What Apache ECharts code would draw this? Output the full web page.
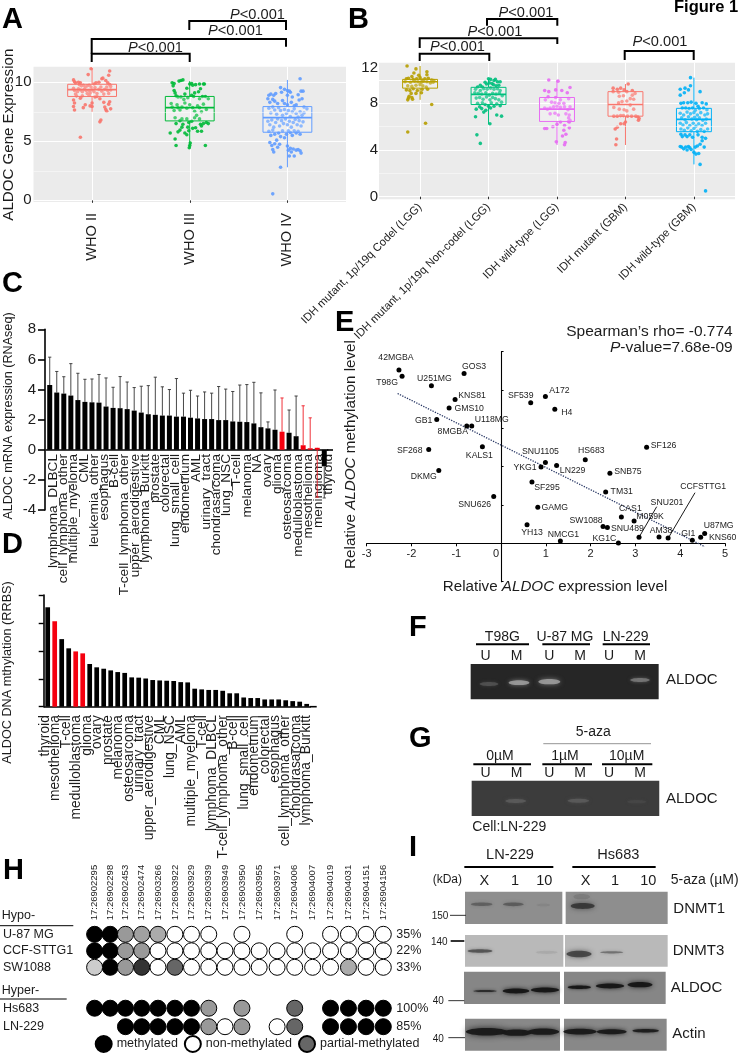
<!DOCTYPE html>
<html><head><meta charset="utf-8">
<style>html,body{margin:0;padding:0;background:#fff}#c{width:744px;height:1053px}</style>
<script src="https://cdn.jsdelivr.net/npm/echarts@6/dist/echarts.min.js"></script>
</head><body><div id="c"></div>
<script>
// ---------- Panel A data
const whoLabels = ['WHO II','WHO III','WHO IV'];
const whoBoxes = [[1,7.5,8.8,9.38,9.83,11.2],[2,4.4,6.73,7.86,8.8,10.1],[3,2.8,5.77,7.0,7.94,10.2]];
const whoII = [[-.12,5.35],[.08,6.65],[.09,6.8],[-.01,11.15],[.18,10.95],[-.04,10.65],[.17,10.6],[-.19,10.2],[-.18,10.05],[-.17,9.95],[-.14,10.0],[-.12,9.95],[-.13,9.8],[-.11,9.7],[-.09,9.75],[-.07,9.6],[-.05,9.7],[-.03,9.75],[-.01,9.6],[.02,9.85],[.04,9.95],[.07,10.0],[.1,10.3],[.11,10.35],[.14,10.15],[.16,9.95],[.18,9.8],[.19,9.65],[-.19,9.5],[-.18,9.3],[-.17,9.0],[-.16,8.85],[-.15,9.2],[-.14,9.45],[-.12,9.35],[-.1,9.2],[-.08,9.4],[-.06,9.3],[-.05,9.05],[-.03,9.3],[-.02,9.1],[0,9.35],[.02,9.2],[.03,9.55],[.05,9.05],[.07,9.4],[.09,9.6],[.1,9.25],[.12,9.0],[.13,9.4],[.15,9.6],[.16,9.3],[.17,9.05],[.19,9.35],[-.19,8.5],[-.18,8.25],[-.19,7.95],[-.18,7.65],[-.12,8.65],[-.1,8.85],[-.09,7.85],[-.07,8.1],[-.03,8.9],[-.02,8.0],[.0,7.95],[0,8.25],[.03,8.75],[.05,8.8],[.08,8.6],[.12,8.3],[.13,7.9],[.14,7.7],[.15,7.55],[.17,8.15],[.18,8.35],[.19,7.75]];
const whoIII = [[-.18,9.95],[-.17,9.7],[-.16,9.9],[-.11,10.1],[-.09,10.15],[-.07,10.2],[-.03,9.5],[0,9.85],[.02,9.9],[.03,9.75],[.06,9.8],[.1,9.85],[.14,9.85],[.15,9.85],[-.16,9.3],[-.15,9.1],[-.14,8.85],[-.12,8.75],[-.09,8.75],[-.06,8.55],[-.05,9.0],[-.02,8.7],[.02,8.9],[.04,8.8],[.05,9.1],[.09,9.2],[.11,9.45],[.1,8.6],[.13,8.8],[.16,8.8],[.19,8.6],[-.19,8.2],[-.18,7.9],[-.16,7.6],[-.13,8.1],[-.12,7.85],[-.1,7.65],[-.08,7.9],[-.05,8.25],[-.03,7.8],[0,8.1],[.03,7.85],[.05,7.55],[.08,8.0],[.1,7.85],[.12,7.5],[.14,8.15],[.17,7.7],[-.15,7.0],[-.14,6.5],[-.1,6.75],[-.08,6.9],[-.07,6.45],[-.03,6.9],[-.01,6.6],[.02,6.7],[.05,7.0],[.07,7.2],[.1,6.9],[.12,6.3],[.14,6.5],[.17,6.6],[.19,6.5],[-.2,5.7],[-.15,5.2],[-.12,5.8],[-.1,5.95],[-.08,6.2],[-.05,5.7],[-.03,5.55],[-.02,6.2],[-.01,5.9],[.03,6.1],[.06,6.15],[.08,5.85],[.12,5.85],[.11,6.45],[-.14,4.65],[-.005,4.45],[0,4.65],[.005,4.85],[.16,4.65]];
const whoIV = [[.13,10.3],[-.07,9.55],[-.03,9.4],[.0,9.3],[.02,9.25],[.03,9.15],[.14,9.25],[.16,9.25],[.11,8.95],[-.19,8.9],[-.17,9.0],[-.14,8.9],[-.12,9.05],[-.06,9.15],[.0,8.9],[.05,8.75],[-.2,8.6],[-.18,8.3],[-.15,8.55],[-.13,8.4],[-.1,8.2],[-.05,8.45],[-.03,8.2],[0,8.1],[.04,8.3],[.07,8.0],[.09,8.1],[.12,8.5],[.15,8.6],[.17,7.9],[.2,7.75],[-.19,7.8],[-.17,7.4],[-.15,7.9],[-.13,7.65],[-.11,7.3],[-.09,7.85],[-.07,7.6],[-.05,7.2],[-.03,7.7],[-.01,7.35],[.01,7.6],[.03,7.1],[.05,7.5],[.07,7.75],[.09,7.35],[.11,7.05],[.13,7.5],[.15,7.2],[.17,7.4],[-.2,6.7],[-.18,6.4],[-.16,6.8],[-.14,6.2],[-.12,6.6],[-.1,6.9],[-.08,6.3],[-.06,6.75],[-.04,6.5],[-.02,6.9],[0,6.4],[.02,6.7],[.04,6.2],[.06,6.6],[.08,6.85],[.1,6.4],[.12,6.75],[.14,6.3],[.16,6.65],[-.19,5.85],[-.17,5.5],[-.15,5.95],[-.13,5.6],[-.11,5.1],[-.09,5.7],[-.07,5.4],[-.05,5.9],[-.03,5.3],[-.01,5.6],[.01,5.9],[.03,5.75],[.05,5.5],[.07,5.9],[.09,5.7],[.11,5.85],[.13,5.6],[-.18,4.9],[-.16,4.65],[-.15,4.3],[-.14,4.1],[-.13,4.8],[-.1,4.5],[-.08,4.75],[.01,4.25],[.03,4.4],[.04,4.1],[.06,4.35],[.09,4.25],[.11,4.3],[.13,4.2],[.14,4.0],[.0,4.6],[.02,3.75],[.07,3.75],[-.15,.55],[-.07,2.8]];
// ---------- Panel B data
const idhLabels = ['IDH mutant, 1p/19q Codel (LGG)','IDH mutant, 1p/19q Non-codel (LGG)','IDH wild-type (LGG)','IDH mutant (GBM)','IDH wild-type (GBM)'];
const idhBoxes = [[1,8.3,9.3,9.85,10.05,11.2],[2,6.2,7.9,8.77,9.37,10.1],[3,4.43,6.45,7.5,8.5,10],[4,4.43,6.9,7.9,9,9.65],[5,2.77,5.57,6.63,7.57,10.2]];
const idhCodel = [[-.19,11.2],[-.06,10.95],[-.09,10.6],[.1,10.7],[.1,10.45],[-.02,10.4],[-.12,10.3],[-.2,10.1],[-.17,10.15],[-.1,10.05],[-.05,10.1],[.0,10.2],[.03,10.0],[.07,10.1],[.12,10.15],[.17,10.0],[.2,9.95],[-.22,9.85],[-.14,9.8],[-.08,9.9],[-.03,9.85],[.02,9.8],[.05,9.9],[.1,9.85],[.15,9.75],[.19,9.8],[-.18,9.5],[-.12,9.45],[-.06,9.55],[0,9.6],[.04,9.5],[.09,9.4],[-.2,9.15],[-.15,9.1],[-.1,9.25],[-.04,9.1],[.03,9.2],[.11,9.2],[-.13,8.85],[-.06,8.85],[.02,8.9],[-.16,8.6],[-.12,8.5],[-.17,8.45],[-.18,8.3],[-.11,8.35],[.17,7.9],[.08,6.3],[-.18,5.55]];
const idhNonCodel = [[-.12,4.57],[-.17,5.3],[-.19,6.85],[.12,7.0],[.19,6.9],[.02,6.25],[.0,10.1],[.03,10.05],[.1,10.05],[.08,9.95],[.13,9.85],[.17,9.85],[-.05,9.8],[-.03,9.65],[.01,9.75],[.05,9.7],[-.12,9.55],[-.16,9.4],[-.09,9.4],[.07,9.6],[.11,9.5],[.15,9.55],[-.19,9.2],[-.12,9.1],[-.07,9.25],[-.02,9.2],[.03,9.3],[.08,9.2],[.13,9.25],[.17,9.1],[-.2,8.9],[-.15,8.85],[-.1,8.8],[-.04,8.9],[.01,8.7],[.06,8.85],[.11,8.8],[.16,8.9],[.2,8.65],[-.18,8.45],[-.13,8.5],[-.08,8.35],[-.03,8.55],[.02,8.3],[.06,8.5],[.1,8.4],[.15,8.3],[.19,8.1],[-.16,8.0],[-.09,8.05],[-.05,7.9],[.0,7.75],[.04,8.05],[.08,7.75],[.12,7.95],[.17,7.8],[-.18,7.5],[-.13,7.7],[-.1,7.55],[-.04,7.4],[.03,7.6],[-.07,7.25]];
const idhWtLgg = [[-.12,10],[.015,9.9],[-.18,9.1],[-.12,9],[-.02,9.15],[.07,9.1],[.19,9.35],[.15,8.9],[-.13,8.55],[-.17,8.3],[-.02,8.5],[.05,8.3],[.17,8.4],[-.08,8.1],[-.03,8.05],[.03,8.0],[.1,8.0],[-.18,7.6],[-.14,7.5],[-.1,7.6],[-.05,7.7],[0,7.75],[.05,7.65],[.11,7.7],[.16,7.45],[.19,7.7],[-.03,7.15],[-.1,7.1],[.02,7.0],[.13,7.1],[.18,7.0],[.17,6.75],[.19,6.55],[.17,6.45],[.18,6.4],[.05,6.4],[.0,6.2],[-.06,6.0],[.11,6.1],[.18,5.9],[-.18,5.85],[-.15,5.85],[.1,5.7],[.13,5.35],[.08,5.2],[.12,4.65],[.11,4.45],[-.01,4.7]];
const idhMutGbm = [[.04,9.65],[-.18,9.3],[-.12,9.2],[-.07,9.3],[-.02,9.15],[.02,9],[.1,9.1],[.14,8.85],[-.18,9.0],[-.1,8.95],[-.09,8.6],[-.03,8.65],[.1,8.7],[.12,8.35],[.07,8.4],[.02,8.2],[-.05,8.15],[-.1,8.05],[-.17,7.65],[.07,7.85],[.12,7.5],[-.02,7.45],[-.09,7.5],[.02,7.35],[-.17,6.9],[-.12,6.9],[-.07,6.95],[-.03,6.95],[.03,6.9],[.09,6.9],[.15,6.9],[.18,6.85],[.19,6.55],[.2,6.7],[.0,6.4],[-.07,6.25],[-.02,6.25],[-.12,5.95],[-.15,5.8],[-.13,4.95],[-.14,4.45]];
const idhWtGbm = [[.17,.5],[.09,2.77],[.03,3.65],[-.05,10.2],[-.05,9.5],[-.2,9.2],[-.13,9.3],[-.08,9.15],[.09,9],[-.2,8.7],[-.14,8.9],[-.19,8.0],[-.15,8.05],[-.09,8.05],[-.04,8.1],[.03,8.0],[.06,7.75],[.12,8.05],[.18,7.95],[-.17,7.6],[-.12,7.6],[-.07,7.55],[-.02,7.6],[.02,7.4],[.08,7.55],[.14,7.6],[.19,7.45],[-.2,7.15],[-.15,7.0],[-.1,7.25],[-.05,7.1],[0,7.2],[.05,7.0],[.1,7.2],[.16,7.0],[.2,7.1],[-.18,6.75],[-.13,6.6],[-.08,6.85],[-.03,6.65],[.01,6.8],[.04,6.6],[.08,6.75],[.13,6.55],[.18,6.65],[-.2,6.3],[-.16,6.15],[-.11,6.35],[-.06,6.1],[-.01,6.3],[.03,6.05],[.07,6.25],[.12,6.1],[.17,6.3],[-.19,5.8],[-.14,5.7],[-.09,5.9],[-.04,5.65],[.0,5.85],[.05,5.6],[.1,5.75],[.15,5.6],[.2,5.8],[-.19,5.35],[-.17,5.15],[-.13,5.3],[-.1,5.15],[-.06,5.3],[-.02,5.1],[.06,5.3],[.12,5.1],[.17,5.0],[-.2,4.3],[-.18,4.25],[-.15,4.1],[-.12,4.25],[-.1,4.0],[-.08,4.3],[-.06,4.2],[-.04,4.05],[.05,4.35],[.09,4.5],[.12,4.8],[.02,4.25],[.15,4.25],[.0,3.8],[.07,3.7]];
// ---------- Panel C data
const ccleLabelsC = ['lymphoma_DLBCL','cell_lymphoma_other','multiple_myeloma','CML','leukemia_other','esophagus','B-cell','T-cell_lymphoma_other','upper_aerodigestive','lymphoma_Burkitt','prostate','colorectal','lung_small_cell','endometrium','AML','urinary_tract','chondrasarcoma','lung_NSC','T-cell','melanoma','NA','ovary','glioma','osteosarcoma','medulloblastoma','mesothelioma','meningioma','thyroid'];
const rnaMeans = [4.3,3.8,3.73,3.6,3.3,3.18,3.15,3.13,2.87,2.78,2.76,2.7,2.6,2.47,2.36,2.32,2.27,2.27,2.2,2.2,2.13,2.08,2.04,2.04,1.97,1.97,1.88,1.86,1.84,1.75,1.5,1.42,1.33,1.2,1.13,.9,.3,.1,.13,-1.1];
const rnaErrEnds = [6.15,5.2,4.85,5.72,5.08,4.68,4.7,5.0,4.77,4.15,4.86,4.5,4.13,4.22,4.26,4.82,4.18,4.0,4.73,3.76,3.95,3.57,3.84,3.76,4.2,4.03,3.87,4.3,4.33,4.48,3.78,1.85,3.97,3.44,2.64,3.57,2.92,2.12,-3.15,-3.2];
const rnaRed = [33,36,37,38];
// ---------- Panel D data
const ccleLabelsD = ['thyroid','mesothelioma','T-cell','medulloblastoma','glioma','ovary','prostate','melanoma','osteosarcoma','urinary_tract','upper_aerodigestive','CML','lung_NSC','AML','multiple_myeloma','T-cell','lymphoma_DLBCL','T-cell_lymphoma_other','B-cell','lung_small_cell','endometrium','colorectal','esophagus','cell_lymphoma_other','chondrasarcoma','lymphoma_Burkitt'];
const rrbsValues = [3.56,3.06,2.42,2.09,1.98,1.91,1.53,1.41,1.36,1.30,1.24,1.21,1.05,1.04,1.01,.955,.94,.93,.92,.88,.87,.645,.62,.6,.6,.57,.48,.48,.33,.31,.31,.26,.26,.26,.23,.2,.18,.1];
const rrbsRed = [1,4,5];
// ---------- Panel E data
const cellNames = ['42MGBA','T98G','U251MG','GOS3','KNS81','GMS10','GB1','8MGBA','U118MG','SF268','KALS1','DKMG','SNU626','SF539','A172','H4','SNU1105','YKG1','LN229','HS683','SF126','SNB75','SF295','TM31','GAMG','CAS1','M059K','SW1088','SNU489','YH13','NMCG1','KG1C','SNU201','AM38','CCFSTTG1','GI1','U87MG','KNS60'];
const exprLevel = [-2.28,-2.21,-1.555,-.826,-1.027,-1.16,-1.436,-.766,-.655,-1.615,-.417,-1.39,-.164,.662,.99,1.2,.99,.893,1.24,1.88,3.25,2.43,.69,2.336,.82,2.686,2.97,2.277,2.374,.58,1.324,2.62,3.08,3.527,3.73,4.27,4.546,4.457];
const methLevel = [4.52,4.36,4.11,4.43,3.75,3.53,3.23,3.06,3.06,2.45,2.52,1.90,1.22,3.67,3.83,3.5,2.11,1.99,2.03,2.18,2.51,1.83,1.6,1.34,.94,.687,.583,.443,.417,.487,.06,.01,.157,.165,.14,.08,.26,.157];
const trendX = [-2.31,4.55];
const trendY = [3.91,-.087];
// label centres, in pixels of offset from each dot (layout only)
const cellLabelOffsets = [[-3,-12],[-15,6],[3,-7],[10,-7],[17,-4],[20,1],[-13,1],[-14,6],[20,-6],[-19,1],[-3,9],[-15,6],[-19,8],[-10,-7],[14,-6],[12,3],[-5,-11],[-16,1],[16,5],[6,-9],[17,-2],[18,-2],[15,6],[16,0],[17,0],[9,-8],[16,-4],[-17,-6],[20,1],[5,8],[3,-6],[-14,-4],[28,-35],[2,-6],[35,-51],[-4,-7],[14,-8],[22,0]];
// ---------- Panel H data
const siteLabels = ['17:26902295','17:26902298','17:26902453','17:26902474','17:26903266','17:26903922','17:26903929','17:26903939','17:26903949','17:26903950','17:26903955','17:26903971','17:26904006','17:26904007','17:26904019','17:26904031','17:26904151','17:26904156'];
const siteTrack = [280,327,373,422,471,522,572,624,673,724,776,830,883,937,991,1045,1098,1150];
const rowNames = ['U-87 MG','CCF-STTG1','SW1088','Hs683','LN-229'];
const rowPct = ['35%','22%','33%','100%','85%'];
const rowTrack = [0,1,2,4.48,5.6];
const lvlU87 = [1,1,.4,.37,.33,0,0,0,null,0,null,null,0,null,0,0,0,0];
const lvlCcf = [1,1,.4,.4,0,0,0,0,0,0,0,0,0,0,0,0,0,0];
const lvlSw = [.2,1,.4,.8,0,.6,0,0,0,0,0,0,0,0,0,.33,0,0];
const lvlHs = [1,1,1,1,1,1,1,.4,null,.4,null,null,.6,null,1,1,1,1];
const lvlLn = [null,null,1,1,1,1,1,.4,0,.4,null,0,.6,null,1,1,1,1];

// ---------- styling helpers
const FF = "'Liberation Sans', Arial, sans-serif", INK = '#1c1c1c';
const colsA = ['#F8766D','#00BA38','#619CFF'];
const colsB = ['#B79F00','#00BF7D','#E76BF3','#F8766D','#00B0F6'];
const G = [];
function T(text,x,y,size,o={}){ G.push({type:'text',x,y,rotation:o.rot||0,z:50,style:{text,fontSize:size,fontFamily:FF,fontWeight:o.weight||'normal',fill:o.color||INK,textAlign:o.align||'left',textVerticalAlign:'middle',rich:o.rich}}); }
function L(x1,y1,x2,y2,w,c){ G.push({type:'line',z:40,shape:{x1,y1,x2,y2},style:{stroke:c||'#000',lineWidth:w||1}}); }
function P(pts,w){ G.push({type:'polyline',z:40,shape:{points:pts},style:{stroke:'#000',lineWidth:w||2,fill:null}}); }
function R(x,y,w,h,c){ G.push({type:'rect',z:30,shape:{x,y,width:w,height:h},style:{fill:c}}); }
function B(cx,cy,w,h,c){ G.push({type:'ellipse',z:31,shape:{cx,cy,rx:w/2,ry:h/2},style:{fill:c,shadowBlur:Math.max(3,h*.9),shadowColor:c}}); }
const ital = s => ({i:{fontStyle:'italic',fontSize:s,fontFamily:FF,fill:INK}});

// panel letters
[['A',2,19.5],['B',348,19.5],['C',2,283.5],['D',2,545],['E',335,322.5],['F',409,628],['G',409,738.5],['H',3,871],['I',409,847.5]].forEach(a=>T(a[0],a[1],a[2],29,{weight:'bold',color:'#000'}));
T('Figure 1',674,7.5,16.5,{weight:'bold',color:'#000'});

// A annotations
T('ALDOC Gene Expression',9,134.7,15.1,{rot:Math.PI/2,align:'center'});
P([[91.7,62],[91.7,53.7],[189.7,53.7],[189.7,62]]);
P([[91.7,53.7],[91.7,39],[286,39],[286,46.7]]);
P([[189.3,30],[189.3,21],[286,21],[286,30]]);
[[155.5,47.5],[235.5,30.5],[257.5,14.5],[457.5,46.5],[495,31.5],[526,12.5],[660,42]].forEach(p=>T('{i|P}<0.001',p[0],p[1],14.6,{align:'center',rich:ital(14.6)}));
// B annotations
P([[419.7,61],[419.7,53.7],[489.3,53.7],[489.3,61]]);
P([[419.7,48],[419.7,38.3],[557.3,38.3],[557.3,44]]);
P([[487,25.7],[487,19],[557.3,19],[557.3,25.7]]);
P([[624.7,60],[624.7,51],[693.7,51],[693.7,60]]);
// C / D annotations
T('ALDOC mRNA expression (RNAseq)',9,416,12.6,{rot:Math.PI/2,align:'center'});
T('ALDOC DNA mthylation (RRBS)',7,672.5,12.7,{rot:Math.PI/2,align:'center'});
L(327,450,333,450,1.6); L(310,706.7,316.7,706.7,1.6);
// E annotations
T("Spearman\u2019s rho= -0.774",732.7,332,15.5,{align:'right'});
T('{i|P}-value=7.68e-09',732.7,348,15.5,{align:'right',rich:ital(15.5)});
T('Relative {i|ALDOC} methylation level',351,454.5,15.2,{rot:Math.PI/2,align:'center',rich:ital(15.2)});
T('Relative {i|ALDOC} expression level',555,587,15.2,{align:'center',rich:ital(15.2)});
L(639,537.3,656.7,506.7,.9); L(668.3,538,695,492.7,.9);

// F gel
const fx=z=>420+z/3, fy=z=>600+z/3;
[['T98G',247,168,327],['U-87 MG',435,367,510],['LN-229',617,548,690]].forEach(a=>{T(a[0],fx(a[1]),637.5,14,{align:'center'});L(fx(a[2]),644.3,fx(a[3]),644.3,2);});
const laneU=[197,290,388,480,567,660];
laneU.forEach((z,i)=>{T(i%2?'M':'U',fx(z),656,14,{align:'center'});T(i%2?'M':'U',fx(z),773.5,14,{align:'center'});});
R(fx(152),fy(192),188,35.3,'#262626');
[[207,252,56,6,'rgba(90,90,90,.7)'],[297,248,62,7,'rgba(165,165,165,.8)'],[388,245,66,8,'rgba(165,165,165,.8)'],[660,240,58,6,'rgba(125,125,125,.8)']].forEach(b=>B(fx(b[0]),fy(b[1]),b[2]/3,b[3]/1.5,b[4]));
T('ALDOC',666,680.3,15);
// G gel
T('5-aza',593.3,732,14,{align:'center'});L(543.3,743.7,651,743.7,.8,'#777');
[['0\u00b5M',240,160,333],['1\u00b5M',435,367,516],['10\u00b5M',620,546,697]].forEach(a=>{T(a[0],fx(a[1]),756,14,{align:'center'});L(fx(a[2]),764.3,fx(a[3]),764.3,2);});
R(fx(155),fy(542),187.6,35.3,'#3c3c3c');
[[287,603,62,6,'rgba(95,95,95,.75)'],[475,602,64,6,'rgba(95,95,95,.75)'],[650,605,56,5,'rgba(72,72,72,.7)']].forEach(b=>B(fx(b[0]),fy(b[1]),b[2]/3,b[3]/1.5,b[4]));
T('ALDOC',666,799,15);
T('Cell:LN-229',472.3,827,14);

// I blots
const ix=z=>430+z/3, iy=z=>835+z/3;
T('LN-229',510,855,14.6,{align:'center'});L(ix(103),867,ix(370),867,2);
T('Hs683',618.3,855,14.6,{align:'center'});L(ix(427),867,ix(677),867,2);
T('(kDa)',432.7,880,12);
[['X',163],['1',255],['10',343],['X',467],['1',555],['10',655]].forEach(a=>T(a[0],ix(a[1]),881,14.5,{align:'center'}));
T('5-aza (\u00b5M)',670.7,880.5,14);
[[105,397,170,267,'#8e8e8e'],[407,713,170,267,'#8e8e8e'],[105,400,300,395,'#b9b9b9'],[405,713,300,395,'#b9b9b9'],[102,390,410,507,'#868686'],[402,707,410,507,'#868686'],[105,390,551,647,'#888888'],[402,710,551,647,'#888888']].forEach(r=>R(ix(r[0]),iy(r[2]),(r[1]-r[0])/3,(r[3]-r[2])/3,r[4]));
const blotBands=[[155,208,65,13,'rgba(70,70,70,.55)'],[250,208,62,14,'rgba(70,70,70,.6)'],[340,210,40,10,'rgba(90,90,90,.15)'],[458,213,72,22,'rgba(45,45,45,.8)'],[455,185,50,20,'rgba(80,80,80,.25)'],
[150,348,75,13,'rgba(60,60,60,.7)'],[350,352,65,12,'rgba(120,120,120,.2)'],[447,357,75,24,'rgba(55,55,55,.8)'],[545,352,70,9,'rgba(80,80,80,.6)'],
[165,468,70,8,'rgba(30,30,30,.8)'],[258,468,80,18,'rgba(20,20,20,.92)'],[345,465,85,18,'rgba(20,20,20,.92)'],[448,457,70,13,'rgba(20,20,20,.92)'],[540,453,85,18,'rgba(20,20,20,.92)'],[630,449,75,20,'rgba(20,20,20,.92)'],
[170,590,125,28,'rgba(25,25,25,.95)'],[260,593,90,24,'rgba(25,25,25,.95)'],[340,590,95,24,'rgba(25,25,25,.95)'],[450,590,100,21,'rgba(25,25,25,.95)'],[545,590,90,19,'rgba(25,25,25,.95)'],[647,587,80,13,'rgba(25,25,25,.9)']];
blotBands.forEach(b=>B(ix(b[0]),iy(b[1]),b[2]/3,b[3]/3*.8,b[4]));
[['DNMT1',730,222],['DNMT3',728,347],['ALDOC',722,460],['Actin',727,597]].forEach(a=>T(a[0],ix(a[1]),iy(a[2]),15));
[['150',5,245,60,108,241,1],['140',3,322,62,103,318,2],['40',8,500,55,103,497,1],['40',8,612,55,105,608,1]].forEach(a=>{T(a[0],ix(a[1]),iy(a[2]),10);L(ix(a[3]),iy(a[5]),ix(a[4]),iy(a[5]),a[6],'#333');});
// H annotations
T('Hypo-',1.7,916,12.5);L(0,925.7,73.3,925.7,1);
T('Hyper-',1.7,990.5,12.5);L(0,999,66.7,999,1);

// ---------- series builders
function boxSeries(name,xi,yi,data,cols,halfW){ return {name,type:'custom',xAxisIndex:xi,yAxisIndex:yi,z:4,clip:false,silent:true,data,encode:{x:0,y:[1,2,3,4,5]},
  renderItem(params,api){ const c=cols[params.dataIndex],x=api.value(0),v=[1,2,3,4,5].map(d=>api.value(d));
    const p=(a,b)=>api.coord([a,b]); const st={stroke:c,lineWidth:1,fill:null};
    const tl=p(x-halfW,v[3]),br=p(x+halfW,v[1]),ml=p(x-halfW,v[2]),mr=p(x+halfW,v[2]);
    return {type:'group',children:[
      {type:'line',shape:{x1:p(x,v[0])[0],y1:p(x,v[0])[1],x2:p(x,v[1])[0],y2:p(x,v[1])[1]},style:st},
      {type:'line',shape:{x1:p(x,v[3])[0],y1:p(x,v[3])[1],x2:p(x,v[4])[0],y2:p(x,v[4])[1]},style:st},
      {type:'rect',shape:{x:tl[0],y:tl[1],width:br[0]-tl[0],height:br[1]-tl[1]},style:{stroke:c,lineWidth:1,fill:'rgba(255,255,255,.22)'}},
      {type:'line',shape:{x1:ml[0],y1:ml[1],x2:mr[0],y2:mr[1]},style:{stroke:c,lineWidth:1.7}}
    ]};}}; }
function jitter(name,xi,yi,k,pts,col,minor){ const s={name,type:'scatter',xAxisIndex:xi,yAxisIndex:yi,z:3,symbolSize:3.6,clip:false,silent:true,itemStyle:{color:col,opacity:.9},data:pts.map(p=>[k+p[0],p[1]])};
  if(minor) s.markLine={silent:true,symbol:'none',animation:false,label:{show:false},lineStyle:{color:'#fff',width:.6,type:'solid',opacity:.8},data:minor.map(v=>({yAxis:v}))};
  return s; }
function errSeries(name,xi,yi,means,ends,red){ return {name,type:'custom',xAxisIndex:xi,yAxisIndex:yi,z:3,clip:false,silent:true,data:means.map((m,i)=>[i,m,ends[i]]),encode:{x:0,y:[1,2]},
  renderItem(params,api){ const i=api.value(0),a=api.coord([i,api.value(1)]),b=api.coord([i,api.value(2)]),c=red.includes(i)?'#ee1c25':'#333';
    return {type:'group',children:[{type:'line',shape:{x1:a[0],y1:a[1],x2:b[0],y2:b[1]},style:{stroke:c,lineWidth:.9}},{type:'line',shape:{x1:b[0]-1.6,y1:b[1],x2:b[0]+1.6,y2:b[1]},style:{stroke:c,lineWidth:.9}}]};}}; }
const colorBars=(vals,red)=>vals.map((v,i)=>({value:v,itemStyle:{color:red.includes(i)?'#f5000f':'#000'}}));

// H series
const rows=[lvlU87,lvlCcf,lvlSw,lvlHs,lvlLn];
const hPts={m:[],n:[],p:[]};
rows.forEach((r,ri)=>r.forEach((lv,ci)=>{ if(lv===null)return;
  const pt=[siteTrack[ci],rowTrack[ri]];
  if(lv===1)hPts.m.push(pt); else if(lv===0)hPts.n.push(pt);
  else {const g=Math.round(255*(1-lv));hPts.p.push({value:pt,itemStyle:{color:`rgb(${g},${g},${g})`}});}
}));
const hSeries=(name,data,color)=>({name,type:'scatter',xAxisIndex:7,yAxisIndex:7,clip:false,silent:true,symbolSize:16,data,itemStyle:{color,borderColor:'#000',borderWidth:1,opacity:1}});

const noLine={show:false}, noTick={show:false};
const blackAxis={lineStyle:{color:'#000',width:1.6}};
const option={
  animation:false,backgroundColor:'#fff',textStyle:{fontFamily:FF,color:INK},
  grid:[
    {left:33.5,top:66.7,width:312.5,height:135.3,show:true,backgroundColor:'#EBEBEB',borderWidth:0},
    {left:379,top:62.7,width:356,height:136.6,show:true,backgroundColor:'#EBEBEB',borderWidth:0},
    {left:46.2,top:329.3,width:281.6,height:180.7},
    {left:48.2,top:449,width:285.2,height:1},
    {left:44.2,top:595,width:266,height:111.7},
    {left:39.8,top:705.7,width:272,height:1},
    {left:366.7,top:351.7,width:358.3,height:230},
    {left:93.3,top:934.3,width:290,height:92.4},
    {left:366.7,top:542.3,width:358.3,height:1}
  ],
  xAxis:[
    {gridIndex:0,type:'value',min:.4,max:3.6,axisLine:noLine,axisTick:{customValues:[1,2,3],length:2.5,lineStyle:{color:'#333'}},splitLine:{show:true,lineStyle:{color:'#fff',width:1.1}},
      axisLabel:{customValues:[1,2,3],formatter:v=>whoLabels[v-1],rotate:90,fontSize:14.6,margin:11,color:INK}},
    {gridIndex:1,type:'value',min:.4,max:5.6,axisLine:noLine,axisTick:{customValues:[1,2,3,4,5],length:2.5,lineStyle:{color:'#333'}},splitLine:{show:true,lineStyle:{color:'#fff',width:1.1}},
      axisLabel:{customValues:[1,2,3,4,5],formatter:v=>idhLabels[v-1],rotate:45,fontSize:11.3,margin:6,color:INK}},
    {gridIndex:2,type:'category',data:rnaMeans.map((_,i)=>String(i+1)),axisLine:{onZero:true,...blackAxis},axisTick:noTick,axisLabel:{show:false}},
    {gridIndex:3,type:'category',position:'bottom',data:ccleLabelsC,axisLine:noLine,axisTick:noTick,axisLabel:{interval:0,rotate:90,fontSize:13.6,margin:4,color:INK,hideOverlap:false}},
    {gridIndex:4,type:'category',data:rrbsValues.map((_,i)=>String(i+1)),axisLine:blackAxis,axisTick:noTick,axisLabel:{show:false}},
    {gridIndex:5,type:'category',position:'bottom',data:ccleLabelsD,axisLine:noLine,axisTick:noTick,axisLabel:{interval:0,rotate:90,fontSize:13.8,margin:8.5,color:INK,hideOverlap:false}},
    {gridIndex:6,type:'value',min:-3,max:5,interval:1,axisLine:{onZero:true,lineStyle:{color:'#000',width:1.1}},axisTick:{show:false},splitLine:{show:false},axisLabel:{show:false}},
    {gridIndex:7,type:'value',position:'top',min:280,max:1150,axisLine:noLine,axisTick:{show:false,customValues:siteTrack},splitLine:{show:false},
      axisLabel:{customValues:siteTrack,formatter:v=>siteLabels[siteTrack.indexOf(v)],rotate:90,fontSize:9.5,margin:14,color:INK}},
    {gridIndex:8,type:'value',position:'bottom',min:-3,max:5,interval:1,axisLine:noLine,axisTick:{length:3,lineStyle:{color:'#000'}},splitLine:{show:false},
      axisLabel:{fontSize:11,margin:5,color:INK,formatter:v=>v===0?'{z|0}':String(v),rich:{z:{fontSize:11,padding:[0,10,0,0]}}}}
  ],
  yAxis:[
    {gridIndex:0,type:'value',min:-.14,max:11.32,axisLine:noLine,axisTick:{show:false,customValues:[0,5,10]},splitLine:{show:true,lineStyle:{color:'#fff',width:1.1}},
      axisLabel:{customValues:[0,5,10],fontSize:15,margin:2,color:INK}},
    {gridIndex:1,type:'value',min:-.22,max:11.48,axisLine:noLine,axisTick:{show:false,customValues:[0,4,8,10]},splitLine:{show:true,lineStyle:{color:'#fff',width:1.1}},
      axisLabel:{customValues:[0,4,8,11],formatter:v=>v===11?'12':String(v),fontSize:15,margin:1,color:INK}},
    {gridIndex:2,type:'value',min:-4,max:8,interval:2,offset:1.2,axisLine:{show:true,onZero:false,...blackAxis},axisTick:{show:true,length:7,lineStyle:{color:'#000',width:1.6}},splitLine:{show:false},axisLabel:{fontSize:15,margin:9,color:INK}},
    {gridIndex:3,type:'value',show:false},
    {gridIndex:4,type:'value',min:0,max:4,interval:1,offset:.5,axisLine:{show:true,...blackAxis},axisTick:{show:true,length:5,lineStyle:{color:'#000',width:1.4}},splitLine:{show:false},axisLabel:{show:false}},
    {gridIndex:5,type:'value',show:false},
    {gridIndex:6,type:'value',min:-1,max:5,interval:1,axisLine:{onZero:true,lineStyle:{color:'#000',width:1.1}},axisTick:{length:2.5,inside:true,lineStyle:{color:'#000'}},splitLine:{show:false},axisLabel:{show:false}},
    {gridIndex:7,type:'value',min:0,max:5.6,inverse:true,position:'left',axisLine:noLine,axisTick:{show:false,customValues:rowTrack},splitLine:{show:false},
      axisLabel:{customValues:rowTrack,formatter:v=>rowNames[rowTrack.indexOf(v)],align:'left',margin:91.6,fontSize:12.5,color:INK}},
    {gridIndex:7,type:'value',min:0,max:5.6,inverse:true,position:'right',axisLine:noLine,axisTick:{show:false,customValues:rowTrack},splitLine:{show:false},
      axisLabel:{customValues:rowTrack,formatter:v=>rowPct[rowTrack.indexOf(v)],align:'left',margin:13,fontSize:12.5,color:INK}},
    {gridIndex:8,type:'value',show:false}
  ],
  legend:{data:['methylated','non-methylated','partial-methylated'],left:94.7,top:1035,itemWidth:16,itemHeight:16,itemGap:6,icon:'circle',selectedMode:false,padding:0,textStyle:{fontSize:12.5,color:INK,fontFamily:FF}},
  series:[
    jitter('WHO II',0,0,1,whoII,colsA[0],[2.5,7.5]),jitter('WHO III',0,0,2,whoIII,colsA[1]),jitter('WHO IV',0,0,3,whoIV,colsA[2]),
    boxSeries('WHO boxes',0,0,whoBoxes,colsA,.25),
    jitter(idhLabels[0],1,1,1,idhCodel,colsB[0],[2,6]),jitter(idhLabels[1],1,1,2,idhNonCodel,colsB[1]),jitter(idhLabels[2],1,1,3,idhWtLgg,colsB[2]),jitter(idhLabels[3],1,1,4,idhMutGbm,colsB[3]),jitter(idhLabels[4],1,1,5,idhWtGbm,colsB[4]),
    boxSeries('IDH boxes',1,1,idhBoxes,colsB,.255),
    {name:'ALDOC mRNA',type:'bar',xAxisIndex:2,yAxisIndex:2,barWidth:5,silent:true,z:4,data:colorBars(rnaMeans,rnaRed)},
    errSeries('ALDOC mRNA error',2,2,rnaMeans,rnaErrEnds,rnaRed),
    {name:'ALDOC methylation',type:'bar',xAxisIndex:4,yAxisIndex:4,barWidth:4.7,silent:true,data:colorBars(rrbsValues,rrbsRed)},
    {name:'trend',type:'line',xAxisIndex:6,yAxisIndex:6,symbol:'none',silent:true,clip:false,lineStyle:{color:'#2b3a67',width:1.3,type:'dotted'},data:trendX.map((x,i)=>[x,trendY[i]])},
    {name:'Cell lines',type:'scatter',xAxisIndex:6,yAxisIndex:6,symbolSize:5,silent:true,clip:false,z:5,itemStyle:{color:'#000',opacity:1},
      label:{show:true,position:'inside',formatter:'{b}',fontSize:8.7,color:INK},
      data:cellNames.map((n,i)=>({name:n,value:[exprLevel[i],methLevel[i]],label:{offset:cellLabelOffsets[i]}}))},
    hSeries('methylated',hPts.m,'#000'),hSeries('non-methylated',hPts.n,'#fff'),hSeries('partial-methylated',hPts.p,'#666')
  ],
  graphic:{elements:G}
};
const chart=echarts.init(document.getElementById('c'),null,{renderer:'canvas',width:744,height:1053});
chart.setOption(option);
</script></body></html>
